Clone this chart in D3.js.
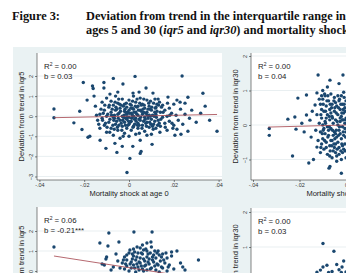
<!DOCTYPE html>
<html>
<head>
<meta charset="utf-8">
<script src="https://cdn.jsdelivr.net/npm/d3@7"></script>
<style>
  body { margin: 0; background: #fff; }
  text { font-family: "Liberation Sans", Arial, sans-serif; }
</style>
</head>
<body>
<div class="chart"></div>
<script>
var width = 346, height = 273;

// x: mortality shock, y: deviation from trend
var xTicks = [-0.04, -0.02, 0, 0.02, 0.04];
var xTickLabels = ['-.04', '-.02', '0', '.02', '.04'];

var stats = [
	{ r2: '0.00', b: '0.03' },
	{ r2: '0.00', b: '0.04' },
	{ r2: '0.06', b: '-0.21***' },
	{ r2: '0.00', b: '0.03' }
];

var yTitles = ['Deviation from trend in iqr5', 'Deviation from trend in iqr30',
	'Deviation from trend in iqr5', 'Deviation from trend in iqr30'];
var xTitles = ['Mortality shock at age 0', 'Mortality shock at age 0',
	'Mortality shock at age 5', 'Mortality shock at age 5'];

// fitted line: y = a + b*x over [x0, x1]
var fits = [
	{ a: 0.0, b: 2.2, x0: -0.0335, x1: 0.0393 },
	{ a: 0.0, b: 1.8, x0: -0.0335, x1: 0.0393 },
	{ a: 0.167, b: -17.4, x0: -0.0335, x1: 0.031 },
	{ a: 0.0, b: 1.0, x0: -0.0335, x1: 0.031 }
];

var iqr5Age0 = [
	[-0.0335,0.36],[-0.0335,-0.08],[-0.0246,-0.33],[-0.022,0.25],[-0.021,-0.66],[-0.0204,1.68],
	[-0.0183,-1.05],[-0.0175,-1.0],[-0.0163,1.5],[-0.016,1.38],[-0.0112,1.68],[-0.007,1.88],
	[0.0027,1.98],[-0.0027,1.6],[-0.0112,1.4],[0.0076,1.4],[-0.005,1.2],[0.0018,1.15],
	[-0.0187,0.8],[-0.0156,1.0],[-0.0085,1.1],[0.0045,1.2],[0.0107,1.15],[0.0174,0.95],
	[0.0237,2.0],[0.033,1.14],[0.0263,0.94],[0.0214,0.8],[0.0228,0.7],[0.025,0.65],
	[-0.0103,-1.6],[-0.0054,-1.8],[0.0004,-2.1],[-0.0009,-2.8],[0.005,-1.85],[0.0054,-1.75],
	[-0.0129,-1.2],[-0.0063,-1.35],[0.008,-0.95],[0.0138,-0.8],[0.0196,-0.6],[0.0232,-0.9],
	[0.0263,-0.75],[0.0205,-0.95],[0.0393,-0.75],[0.0214,-0.65],[-0.003,-1.5],[0.0103,-1.4],[0.0017,-1.5],
	[-0.015,0.5],[-0.014,-0.2],[-0.013,0.1],[-0.013,-0.6],[-0.012,0.7],[-0.012,-0.1],[-0.011,0.3],
	[-0.011,-0.45],[-0.010,0.9],[-0.010,0.0],[-0.010,-0.8],[-0.009,0.45],[-0.009,-0.3],[-0.008,0.2],
	[-0.008,-0.6],[-0.008,0.75],[-0.007,-0.05],[-0.007,0.55],[-0.007,-0.95],[-0.006,0.3],[-0.006,-0.4],
	[-0.006,1.0],[-0.005,0.1],[-0.005,-0.7],[-0.005,0.65],[-0.004,-0.2],[-0.004,0.4],[-0.004,-1.1],
	[-0.003,0.85],[-0.003,0.0],[-0.003,-0.5],[-0.002,0.25],[-0.002,-0.3],[-0.002,0.6],[-0.002,-0.85],
	[-0.001,0.1],[-0.001,-0.15],[-0.001,0.45],[-0.001,-0.6],[0.0,0.8],[0.0,-0.05],[0.0,0.3],[0.0,-0.4],
	[0.0,-1.0],[0.001,0.15],[0.001,-0.25],[0.001,0.55],[0.001,-0.7],[0.002,1.0],[0.002,0.0],[0.002,0.35],
	[0.002,-0.5],[0.003,-0.1],[0.003,0.7],[0.003,-0.9],[0.003,0.2],[0.004,-0.35],[0.004,0.5],[0.004,-0.6],
	[0.004,0.05],[0.005,0.9],[0.005,-0.2],[0.005,0.3],[0.005,-1.2],[0.006,0.1],[0.006,-0.45],[0.006,0.6],
	[0.007,-0.05],[0.007,-0.75],[0.007,0.4],[0.008,0.2],[0.008,-0.3],[0.008,0.8],[0.009,-0.55],[0.009,0.05],
	[0.009,0.5],[0.010,-0.15],[0.010,0.3],[0.010,-0.9],[0.011,0.65],[0.011,-0.4],[0.012,0.1],[0.012,-0.6],
	[0.012,0.45],[0.013,-0.2],[0.013,0.85],[0.014,0.2],[0.014,-0.5],[0.015,-0.05],[0.015,0.55],[0.016,-0.35],
	[0.016,0.3],[0.017,0.0],[0.017,-0.7],[0.018,0.4],[0.018,-0.25],[0.019,0.15],[0.020,-0.45],[0.020,0.6],
	[0.021,0.05],[0.022,-0.2],[0.023,0.35],[0.024,-0.4],[0.025,0.1],[0.027,-0.1],[0.028,0.3],[0.030,-0.3],
	[0.032,0.15],[0.034,0.5],[0.036,-0.2],
	[-0.0045,0.15],[-0.0035,-0.35],[-0.0025,0.5],[-0.0015,-0.1],[-0.0005,0.2],[0.0005,-0.3],[0.0015,0.4],
	[0.0025,-0.15],[0.0035,0.1],[0.0045,-0.45],[0.0055,0.25],[0.0065,-0.25],[0.0075,0.15],[0.0085,-0.1],
	[0.0095,0.35],[0.0105,0.05],[-0.0055,-0.25],[-0.0065,0.05],[0.0115,-0.25],[0.0125,0.25],[0.0135,-0.35],
	[0.0145,0.45],[-0.0075,0.35],[-0.0085,-0.15],[-0.0095,0.1],[-0.0105,-0.35],[-0.0115,0.15],[-0.0125,0.35],
	[-0.0135,-0.4],[-0.0145,0.05],
	[-0.0078,0.05],[-0.0068,-0.2],[-0.0058,0.45],[-0.0048,-0.1],[-0.0038,0.25],[-0.0028,-0.2],[-0.0018,0.35],
	[-0.0008,-0.05],[0.0002,0.15],[0.0012,-0.1],[0.0022,0.2],[0.0032,-0.25],[0.0042,0.3],[0.0052,-0.05],
	[0.0062,0.35],[0.0072,-0.15],[0.0082,0.05],[0.0092,-0.3],[0.0102,0.45],[0.0112,0.0],[0.0122,-0.05],
	[0.0132,0.55],[-0.0072,-0.45],[-0.0062,0.7],[-0.0052,-0.55],[-0.0042,0.6],[-0.0032,-0.7],[-0.0022,0.05],
	[-0.0012,0.65],[-0.0002,-0.25],[0.0008,0.4],[0.0018,-0.55],[0.0028,0.5],[0.0038,-0.45],[0.0048,0.65],
	[0.0058,-0.6],[0.0068,0.55],[0.0078,-0.5],[0.0088,0.65],[0.0098,-0.4],[0.0108,-0.65],[0.0118,0.4],
	[0.0128,-0.45],[-0.0088,0.55],[-0.0098,-0.55],[-0.0108,0.55],[-0.0118,-0.2],[0.0142,-0.15],[0.0152,0.2],
	[0.0162,-0.55],[0.0172,0.65],[0.0182,0.05],[0.0192,-0.35],[-0.0026,-1.0],[0.0046,-0.85],[0.0096,0.75],
	[-0.0046,0.85],[0.0066,0.85],[-0.0016,-0.45],[0.0036,0.85],[0.0116,0.85],[-0.0086,-0.8],[0.0136,0.7],
	[0.0016,0.75],[-0.0066,-0.65],
	[-0.0035,0.55],[-0.0025,-0.05],[-0.0015,0.2],[-0.0005,-0.45],[0.0005,0.6],[0.0015,0.05],[0.0025,-0.4],
	[0.0035,0.45],[0.0045,-0.15],[0.0055,0.55],[0.0065,0.2],[0.0075,-0.35],[0.0085,0.35],[0.0095,0.0],
	[0.0105,-0.5],[0.0115,0.2],[-0.0045,-0.45],[-0.0055,0.35],[-0.0065,-0.1],[0.0125,0.6]
];

var iqr30Age0 = [
	[-0.033,-0.1],[-0.033,-0.3],[-0.025,0.17],[-0.022,0.23],[-0.0215,-0.12],[-0.023,-0.9],[-0.0207,0.78],
	[-0.017,0.87],[-0.017,0.29],[-0.0155,0.14],[-0.0125,0.93],[-0.0133,0.58],[-0.012,1.45],[-0.0069,1.3],
	[-0.0013,1.45],[-0.0069,-1.2],[-0.014,-1.0],[-0.016,-1.1],[-0.0073,-1.25],[-0.0125,-0.64],[-0.019,0.05],
	[-0.018,-0.2],[-0.015,-0.35],[-0.0145,0.4],[-0.011,-0.8],[-0.010,1.0],[-0.004,-1.05],[-0.002,-1.4],
	[-0.008,1.1],[-0.003,1.2],
	[-0.011,0.6],[-0.011,-0.2],[-0.0105,0.2],[-0.0105,-0.55],[-0.010,0.75],[-0.010,0.0],[-0.010,-0.4],
	[-0.0095,0.4],[-0.0095,-0.7],[-0.009,0.1],[-0.009,-0.25],[-0.009,0.85],[-0.0085,0.55],[-0.0085,-0.5],
	[-0.008,-0.05],[-0.008,0.3],[-0.008,-0.85],[-0.0075,0.7],[-0.0075,-0.3],[-0.007,0.15],[-0.007,-0.6],
	[-0.007,0.45],[-0.0065,-0.1],[-0.0065,0.9],[-0.006,0.25],[-0.006,-0.45],[-0.006,0.6],[-0.0055,-0.75],
	[-0.0055,0.05],[-0.005,0.4],[-0.005,-0.2],[-0.005,0.8],[-0.0045,-0.55],[-0.0045,0.15],[-0.004,0.55],
	[-0.004,-0.35],[-0.004,-0.9],[-0.0035,0.3],[-0.0035,0.0],[-0.003,0.7],[-0.003,-0.15],[-0.003,-0.65],
	[-0.0025,0.45],[-0.0025,0.1],[-0.002,-0.4],[-0.002,0.85],[-0.002,0.25],[-0.0015,-0.8],[-0.0015,-0.05],
	[-0.0015,0.6],[-0.001,0.35],[-0.001,-0.3],[-0.001,0.95],[-0.0005,0.05],[-0.0005,-0.55],[-0.0005,0.5],
	[0.0,0.2],[0.0,-0.2],[0.0,0.7],[0.0,-0.95],[-0.0085,0.2],[-0.0075,-0.15],[-0.0065,0.35],[-0.0055,-0.3],
	[-0.0045,0.65],[-0.0035,-0.5],[-0.0025,-0.25],[-0.0015,0.15],[-0.0005,-0.1],[-0.0095,-0.1],[-0.0105,0.45],
	[-0.0115,0.05],[-0.012,-0.45],[-0.0125,0.3],[-0.013,-0.15],
	[-0.006,-0.95],[-0.005,-0.65],[-0.003,-0.85],[-0.001,-0.7],[-0.002,-1.0],[-0.0045,-0.8],[-0.007,-0.9],[-0.0085,-0.65],
	[-0.0108,0.3],[-0.0102,-0.25],[-0.0098,0.6],[-0.0092,-0.45],[-0.0088,0.05],[-0.0082,0.7],[-0.0078,-0.35],
	[-0.0072,0.25],[-0.0068,-0.75],[-0.0062,0.5],[-0.0058,-0.15],[-0.0052,0.7],[-0.0048,-0.4],[-0.0042,0.35],
	[-0.0038,-0.7],[-0.0032,0.5],[-0.0028,-0.05],[-0.0022,0.6],[-0.0018,-0.55],[-0.0012,0.15],[-0.0008,0.8],
	[-0.0002,-0.35],[-0.0108,-0.65],[-0.0092,0.9],[-0.0062,-0.6],[-0.0042,-0.15],[-0.0022,-0.75],[-0.0012,0.45],
	[-0.0002,0.4],[-0.0035,0.85],[-0.0068,0.6],[-0.0115,0.75],
	[-0.0105,0.85],[-0.0098,-0.15],[-0.0088,0.4],[-0.0078,0.85],[-0.0072,-0.05],[-0.0058,0.2],[-0.0052,-0.55],
	[-0.0048,0.5],[-0.0038,0.1],[-0.0032,-0.3],[-0.0028,0.75],[-0.0018,0.35],[-0.0012,-0.2],[-0.0008,0.6],
	[-0.0004,-0.75],[-0.0002,0.15],[-0.0065,-0.45],[-0.0045,-0.25],[-0.0025,0.2],[-0.0015,-0.6]
];

var iqr5Age5 = [
	[-0.0335,1.2],[-0.009,1.9],[0.0022,1.95],[0.0103,1.95],[-0.013,1.4],[-0.0094,1.25],[-0.0045,1.45],
	[-0.0058,0.85],[-0.010,0.7],[-0.0103,0.6],[-0.012,0.35],[-0.011,0.3],[0.031,0.55],[0.0214,1.0],
	[0.019,0.95],[0.023,0.4],[0.024,0.2],[0.025,0.05],[0.006,1.3],[0.008,1.4],[0.0098,1.45],[-0.007,0.2],
	[-0.008,0.05],[-0.001,0.8],[0.0004,1.05],[0.0036,1.2],
	[-0.003,0.4],[-0.002,0.7],[-0.002,0.1],[-0.001,0.55],[-0.001,0.25],[0.0,0.9],[0.0,0.0],[0.001,0.45],
	[0.001,0.15],[0.002,0.75],[0.002,1.1],[0.002,0.3],[0.003,0.55],[0.003,-0.05],[0.004,0.9],[0.004,0.2],
	[0.005,0.65],[0.005,0.4],[0.005,1.15],[0.006,0.1],[0.006,0.85],[0.007,0.5],[0.007,0.25],[0.008,1.0],
	[0.008,0.05],[0.008,0.7],[0.009,0.35],[0.009,0.6],[0.010,1.2],[0.010,0.15],[0.011,0.8],[0.011,0.45],
	[0.012,0.05],[0.012,0.65],[0.013,0.3],[0.013,1.0],[0.014,0.5],[0.015,0.15],[0.015,0.85],[0.016,0.4],
	[0.017,0.65],[0.017,0.0],[0.018,0.3],[0.019,0.75],[0.020,0.1],[-0.004,0.15],[-0.005,0.5],[0.0015,0.6],
	[0.0035,0.35],[0.0065,0.0],[0.0095,0.9],[0.0115,0.25],[0.0145,0.7],[0.0045,0.05],[0.0025,0.95],
	[0.0075,1.1],[0.0135,-0.05],[0.0055,0.25],[0.0105,0.55],
	[0.0005,0.35],[0.0015,0.85],[0.0025,0.15],[0.0035,0.7],[0.0045,0.45],[0.0055,0.9],[0.0065,0.6],
	[0.0075,0.3],[0.0085,0.85],[0.0095,0.1],[0.0105,0.7],[0.0115,1.0],[0.0125,0.35],[0.0135,0.8],
	[0.0145,0.2],[0.0155,0.55],[0.0165,0.9],[0.0175,0.2],[-0.0015,0.35],[-0.0025,0.55],[0.0065,1.05],
	[0.0125,0.9],[0.0085,0.45]
];

var iqr30Age5 = [
	[-0.0099,1.1],[-0.0052,0.88],[-0.0099,0.43],[-0.0082,0.48],[-0.011,0.34],[-0.0017,0.43],[0.0,0.29],
	[-0.006,0.3],[-0.004,0.5],[-0.003,0.35],[-0.0125,0.28],[-0.0075,0.27],[-0.001,0.6],[-0.002,0.27]
];

var series = [iqr5Age0, iqr30Age0, iqr5Age5, iqr30Age5];

// panel layout in pixels (plot region and axis ranges)
var panels = [
	{ left: 37, top: 53, w: 185, h: 127, xr: [39.4, 218.6], yd: [-3, 2], yr: [176.5, 76], yt: [-3,-2,-1,0,1,2] },
	{ left: 251, top: 53, w: 190, h: 127, xr: [253, 439], yd: [-1, 2], yr: [159.5, 56], yt: [-1,0,1,2] },
	{ left: 37, top: 207, w: 185, h: 127, xr: [39.4, 218.6], yd: [-3, 2], yr: [331, 231], yt: [-3,-2,-1,0,1,2] },
	{ left: 251, top: 208, w: 190, h: 127, xr: [253, 439], yd: [-1, 2], yr: [317, 212], yt: [-1,0,1,2] }
];

var navy = '#1a476f', fitColor = '#a3434b', bg = '#eaf2f3';

var svg = d3.select('.chart')
	.append('svg')
		.attr('width', width)
		.attr('height', height);

// title
var title = svg.append('g')
	.style('font-weight', 'bold')
	.style('font-size', '12.3px')
	.attr('fill', '#111');
title.append('text').attr('x', 12).attr('y', 20).text('Figure 3:');
title.append('text').attr('x', 86).attr('y', 20).text('Deviation from trend in the interquartile range in life span at');
var t2 = title.append('text').attr('x', 86).attr('y', 34);
t2.append('tspan').text('ages 5 and 30 (');
t2.append('tspan').style('font-style', 'italic').text('iqr5');
t2.append('tspan').text(' and ');
t2.append('tspan').style('font-style', 'italic').text('iqr30');
t2.append('tspan').text(') and mortality shocks');
title.selectAll('text').style('font-family', '"Liberation Serif", "Times New Roman", serif');

svg.append('rect')
	.attr('x', 13).attr('y', 47)
	.attr('width', width - 13).attr('height', height - 47)
	.attr('fill', bg);

panels.forEach(function(p, i) {
	var x = d3.scaleLinear().domain([-0.04, 0.04]).range(p.xr);
	var y = d3.scaleLinear().domain(p.yd).range(p.yr);

	var g = svg.append('g');
	var clipId = 'clip' + i;
	g.append('clipPath').attr('id', clipId)
		.append('rect').attr('x', p.left).attr('y', p.top).attr('width', p.w).attr('height', p.h);

	g.append('rect')
		.attr('x', p.left).attr('y', p.top)
		.attr('width', p.w).attr('height', p.h)
		.attr('fill', '#fff');

	// gridlines
	g.selectAll('.grid')
		.data(p.yt)
		.enter().append('line')
		.attr('x1', p.left).attr('x2', p.left + p.w)
		.attr('y1', d => y(d)).attr('y2', d => y(d))
		.attr('stroke', '#e3ebee').attr('stroke-width', 0.8);

	var plot = g.append('g').attr('clip-path', 'url(#' + clipId + ')');

	plot.selectAll('circle')
		.data(series[i])
		.enter().append('circle')
		.attr('cx', d => x(d[0]))
		.attr('cy', d => y(d[1]))
		.attr('r', 1.7)
		.attr('fill', navy);

	var f = fits[i];
	plot.append('line')
		.attr('x1', x(f.x0)).attr('y1', y(f.a + f.b * f.x0))
		.attr('x2', x(f.x1)).attr('y2', y(f.a + f.b * f.x1))
		.attr('stroke', fitColor).attr('stroke-width', 0.8);

	// y axis
	var yAxis = d3.axisLeft(y).tickValues(p.yt).tickSize(2).tickPadding(1.5).tickFormat(d3.format('d'));
	var ya = g.append('g')
		.attr('transform', `translate(${p.left}, 0)`)
		.call(yAxis);
	ya.select('.domain').attr('d', `M0,${p.top}V${p.top + p.h}`).attr('stroke', '#333').attr('stroke-width', 0.6);
	ya.selectAll('.tick line').attr('stroke', '#333').attr('stroke-width', 0.6);
	ya.selectAll('.tick text')
		.attr('font-size', 5.5).attr('fill', '#333')
		.attr('text-anchor', 'middle')
		.attr('transform', 'rotate(-90)')
		.attr('x', 0).attr('dy', 0)
		.attr('y', -4.5);

	// x axis
	var xAxis = d3.axisBottom(x).tickValues(xTicks).tickSize(2).tickPadding(1.5)
		.tickFormat((d, j) => xTickLabels[j]);
	var xa = g.append('g')
		.attr('transform', `translate(0, ${p.top + p.h})`)
		.call(xAxis);
	xa.select('.domain').attr('d', `M${p.left},0H${p.left + p.w}`).attr('stroke', '#333').attr('stroke-width', 0.6);
	xa.selectAll('.tick line').attr('stroke', '#333').attr('stroke-width', 0.6);
	xa.selectAll('.tick text').attr('font-size', 5.5).attr('fill', '#333');

	g.append('text')
		.attr('x', (p.xr[0] + p.xr[1]) / 2)
		.attr('y', p.top + p.h + 16)
		.attr('text-anchor', 'middle')
		.attr('font-size', 7.5).attr('fill', '#222')
		.text(xTitles[i]);

	g.append('text')
		.attr('transform', `translate(${p.left - 13.5}, ${p.top + p.h / 2}) rotate(-90)`)
		.attr('text-anchor', 'middle')
		.attr('font-size', 7.5).attr('fill', '#222')
		.text(yTitles[i]);

	var st = g.append('text')
		.attr('x', p.left + 7).attr('y', p.top + 16)
		.attr('font-size', 7.8).attr('fill', '#222');
	st.append('tspan').text('R');
	st.append('tspan').attr('dy', -3).attr('font-size', 5).text('2');
	st.append('tspan').attr('dy', 3).text(' = ' + stats[i].r2);
	g.append('text')
		.attr('x', p.left + 7).attr('y', p.top + 26)
		.attr('font-size', 7.8).attr('fill', '#222')
		.text('b = ' + stats[i].b);
});
</script>
</body>
</html>
